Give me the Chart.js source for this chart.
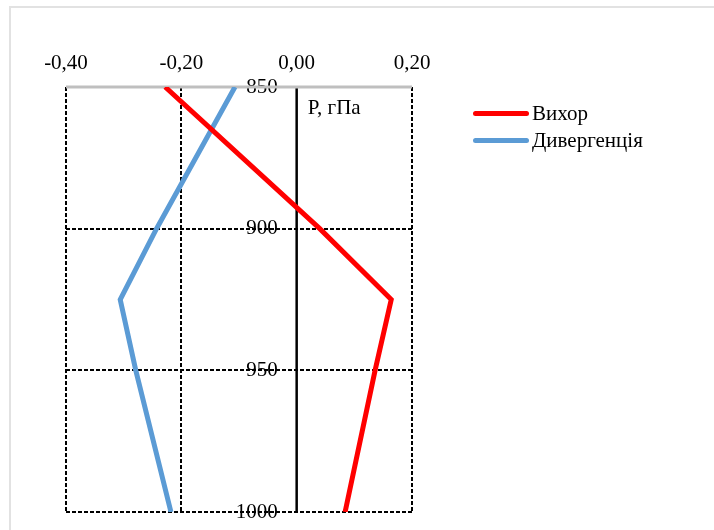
<!DOCTYPE html>
<html>
<head>
<meta charset="utf-8">
<script src="https://cdn.jsdelivr.net/npm/chart.js@4.4.0/dist/chart.umd.min.js"></script>
<style>
  body { margin: 0; background: #fff; }
  #wrap { position: relative; width: 714px; height: 530px; overflow: hidden; }
  #frame { position: absolute; left: 9px; top: 6px; width: 720px; height: 540px;
           border-top: 2px solid #e2e2e2; border-left: 2px solid #e2e2e2; }
  canvas { position: absolute; left: 0; top: 0; }
  .leg { position: absolute; left: 473px; font: 21px "Liberation Serif", "Times New Roman", serif; color: #000; }
  .leg span.ln { position: absolute; left: 0; width: 56px; height: 5px; border-radius: 3px; }
  .leg span.tx { position: absolute; left: 59px; white-space: nowrap; line-height: 24px; }
</style>
</head>
<body>
<div id="wrap">
  <div id="frame"></div>
  <canvas id="myChart" width="714" height="530"></canvas>
  <div class="leg" style="top:101px"><span class="ln" style="top:10px;background:#ff0000"></span><span class="tx" style="top:0">Вихор</span></div>
  <div class="leg" style="top:128px"><span class="ln" style="top:10px;background:#5b9bd5"></span><span class="tx" style="top:0">Дивергенція</span></div>
</div>
<script>
// pressure levels, hPa
var pressure = [850, 900, 925, 950, 1000];
// values
var vortex = [-0.228, 0.040, 0.164, 0.136, 0.084];
var divergence = [-0.107, -0.243, -0.306, -0.279, -0.218];

var xTicks = [-0.4, -0.2, 0, 0.2];
var yTicks = [850, 900, 950, 1000];

function points(vals) {
    var out = [];
    for (var i = 0; i < pressure.length; i++) {
        out.push({ x: vals[i], y: pressure[i] });
    }
    return out;
}

function fmt(v) {
    if (Math.abs(v) < 1e-9) v = 0;
    return v.toFixed(2).replace('.', ',');
}

var font = { family: '"Liberation Serif", "Times New Roman", serif', size: 21 };

// grid lines, axis lines and the axis title
var gridPlugin = {
    id: 'gridLines',
    beforeDatasetsDraw: function (chart) {
        var ctx = chart.ctx;
        var xs = chart.scales.x, ys = chart.scales.y;
        var top = ys.getPixelForValue(850), bottom = ys.getPixelForValue(1000);
        var left = xs.getPixelForValue(-0.4), right = xs.getPixelForValue(0.2);
        ctx.save();
        ctx.strokeStyle = '#000';
        ctx.lineWidth = 2;
        ctx.setLineDash([4, 2]);
        xTicks.forEach(function (v) {
            if (v === 0) return;
            var px = Math.round(xs.getPixelForValue(v));
            ctx.beginPath(); ctx.moveTo(px, top); ctx.lineTo(px, bottom); ctx.stroke();
        });
        yTicks.forEach(function (v) {
            if (v === 850) return;
            var py = Math.round(ys.getPixelForValue(v));
            ctx.beginPath(); ctx.moveTo(left, py); ctx.lineTo(right, py); ctx.stroke();
        });
        ctx.setLineDash([]);
        // zero line
        ctx.lineWidth = 2.5;
        var zx = xs.getPixelForValue(0);
        ctx.beginPath(); ctx.moveTo(zx, top); ctx.lineTo(zx, bottom); ctx.stroke();
        // top axis
        ctx.strokeStyle = '#bfbfbf';
        ctx.lineWidth = 3;
        ctx.beginPath(); ctx.moveTo(left, top); ctx.lineTo(right, top); ctx.stroke();
        // title
        ctx.fillStyle = '#000';
        ctx.font = '21px "Liberation Serif", "Times New Roman", serif';
        ctx.textAlign = 'left';
        ctx.textBaseline = 'middle';
        ctx.fillText('P, гПа', zx + 11, top + 21);
        ctx.restore();
    }
};

new Chart(document.getElementById('myChart').getContext('2d'), {
    type: 'scatter',
    data: {
        datasets: [
            { label: 'Вихор', data: points(vortex), showLine: true, borderColor: '#ff0000',
              backgroundColor: '#ff0000', borderWidth: 5, pointRadius: 0, tension: 0 },
            { label: 'Дивергенція', data: points(divergence), showLine: true, borderColor: '#5b9bd5',
              backgroundColor: '#5b9bd5', borderWidth: 5, pointRadius: 0, tension: 0 }
        ]
    },
    options: {
        responsive: false,
        devicePixelRatio: 1,
        animation: false,
        layout: { padding: { left: 66, right: 302, top: 0, bottom: 18 } },
        plugins: { legend: { display: false }, tooltip: { enabled: false } },
        scales: {
            x: {
                type: 'linear', position: 'top', min: -0.4, max: 0.2,
                afterFit: function (s) { s.height = 87; },
                afterBuildTicks: function (s) { s.ticks = xTicks.map(function (v) { return { value: v }; }); },
                grid: { display: false, drawTicks: false },
                border: { display: false },
                ticks: { color: '#000', font: font, padding: 11, maxRotation: 0,
                         callback: function (v) { return fmt(v); } }
            },
            y: {
                type: 'linear', position: { x: -0.033 }, reverse: true, min: 850, max: 1000,
                afterFit: function (s) { s.paddingTop = 0; s.paddingBottom = 0; },
                afterBuildTicks: function (s) { s.ticks = yTicks.map(function (v) { return { value: v }; }); },
                grid: { display: false, drawTicks: false },
                border: { display: false },
                ticks: { color: '#000', font: font, padding: 0,
                         callback: function (v) { return String(v); } }
            }
        }
    },
    plugins: [gridPlugin]
});
</script>
</body>
</html>
